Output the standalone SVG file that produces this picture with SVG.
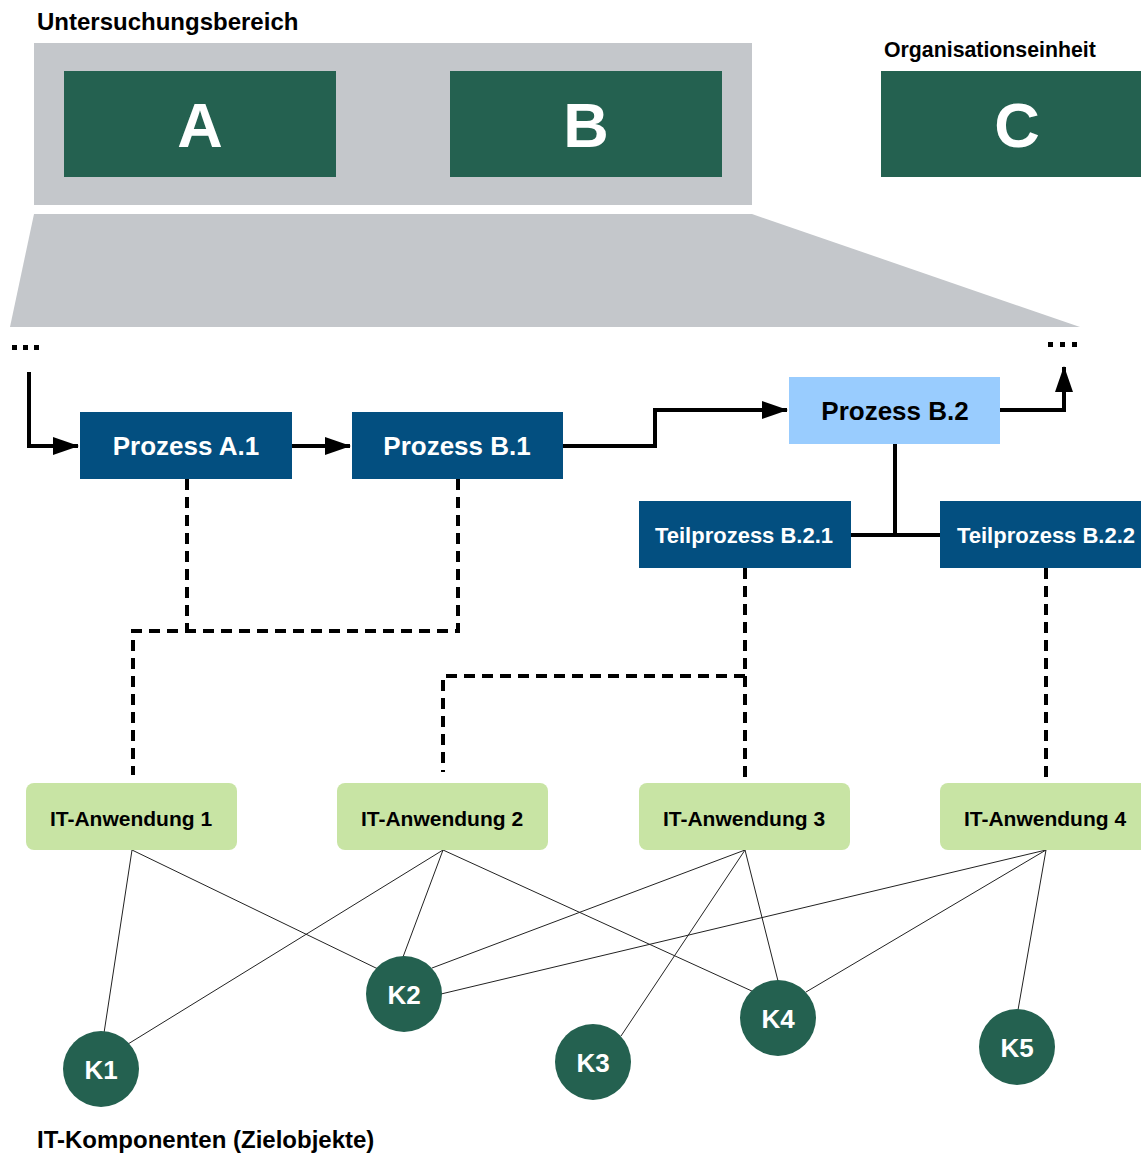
<svg xmlns="http://www.w3.org/2000/svg" width="1141" height="1153" viewBox="0 0 1141 1153">
<style>
text{font-family:"Liberation Sans",Arial,sans-serif;font-weight:bold}
.lbl{fill:#000}
.org{fill:#246150}
.big{fill:#fff;font-size:63px;text-anchor:middle}
.proc{fill:#034f80}
.pt{fill:#fff;font-size:26px;text-anchor:middle}
.tt{fill:#fff;font-size:22px;text-anchor:middle}
.app{fill:#c8e4a4}
.at{fill:#000;font-size:21px;text-anchor:middle}
.comp{fill:#246150}
.kt{fill:#fff;font-size:26px;text-anchor:middle}
.solid{fill:none;stroke:#000;stroke-width:4}
.dash{fill:none;stroke:#000;stroke-width:4;stroke-dasharray:11 7}
.thin{fill:none;stroke:#222;stroke-width:1}
</style>
<defs>
<marker id="ahb" markerWidth="26" markerHeight="18" refX="25" refY="9" orient="auto" markerUnits="userSpaceOnUse" viewBox="0 0 26 18"><path d="M0,0 L26,9 L0,18 z" fill="#000"/></marker>
</defs>

<g id="untersuchungsbereich">
<text class="lbl" x="37" y="30" font-size="24">Untersuchungsbereich</text>
<rect x="34" y="43" width="718" height="162" fill="#c4c7cb"/>
</g>
<g id="zoom-trapez">
<polygon points="34,214 752,214 1080,327 10,327" fill="#c4c7cb"/>
</g>
<g id="node-A"><rect class="org" x="64" y="71" width="272" height="106"/><text class="big" x="200" y="147">A</text></g>
<g id="node-B"><rect class="org" x="450" y="71" width="272" height="106"/><text class="big" x="586" y="147">B</text></g>
<g id="node-C">
<text class="lbl" x="884" y="57" font-size="21.3">Organisationseinheit</text>
<rect class="org" x="881" y="71" width="262" height="106"/><text class="big" x="1017" y="147">C</text></g>

<g id="ellipsis-left"><rect x="12" y="345" width="5" height="5"/><rect x="23" y="345" width="5" height="5"/><rect x="34" y="345" width="5" height="5"/></g>
<g id="ellipsis-right"><rect x="1048" y="342" width="5" height="5"/><rect x="1060" y="342" width="5" height="5"/><rect x="1072" y="342" width="5" height="5"/></g>

<g id="connectors">
<path class="solid" d="M29,372 V446 H78" marker-end="url(#ahb)"/>
<path class="solid" d="M292,446 H350" marker-end="url(#ahb)"/>
<path class="solid" d="M563,446 H655 V410 H787" marker-end="url(#ahb)"/>
<path class="solid" d="M1000,410 H1064 V367" marker-end="url(#ahb)"/>
<path class="solid" d="M895,444 V535 M851,535 H940"/>
<path class="dash" d="M187,479 V631 M458,479 V631 H133 V775"/>
<path class="dash" d="M745,568 V780 M745,676 H443 V772"/>
<path class="dash" d="M1046,568 V780"/>
<path class="thin" d="M132,850 L104,1033 M132,850 L378,969"/>
<path class="thin" d="M443,850 L128,1044 M443,850 L403,957 M443,850 L754,992"/>
<path class="thin" d="M745,850 L432,968 M745,850 L621,1036 M745,850 L778,981"/>
<path class="thin" d="M1046,850 L441,994 M1046,850 L806,992 M1046,850 L1018,1010"/>
</g>

<g id="prozess-a1"><rect class="proc" x="80" y="412" width="212" height="67"/><text class="pt" x="186" y="455">Prozess A.1</text></g>
<g id="prozess-b1"><rect class="proc" x="352" y="412" width="211" height="67"/><text class="pt" x="457" y="455">Prozess B.1</text></g>
<g id="prozess-b2"><rect x="789" y="377" width="211" height="67" fill="#99ccfe"/><text class="pt" x="895" y="420" style="fill:#000">Prozess B.2</text></g>
<g id="teilprozess-b21"><rect class="proc" x="639" y="501" width="212" height="67"/><text class="tt" x="744" y="543">Teilprozess B.2.1</text></g>
<g id="teilprozess-b22"><rect class="proc" x="940" y="501" width="203" height="67"/><text class="tt" x="1046" y="543">Teilprozess B.2.2</text></g>

<g id="it-anwendung-1"><rect class="app" x="26" y="783" width="211" height="67" rx="8"/><text class="at" x="131" y="826">IT-Anwendung 1</text></g>
<g id="it-anwendung-2"><rect class="app" x="337" y="783" width="211" height="67" rx="8"/><text class="at" x="442" y="826">IT-Anwendung 2</text></g>
<g id="it-anwendung-3"><rect class="app" x="639" y="783" width="211" height="67" rx="8"/><text class="at" x="744" y="826">IT-Anwendung 3</text></g>
<g id="it-anwendung-4"><rect class="app" x="940" y="783" width="211" height="67" rx="8"/><text class="at" x="1045" y="826">IT-Anwendung 4</text></g>

<g id="k1"><circle class="comp" cx="101" cy="1069" r="38"/><text class="kt" x="101" y="1079">K1</text></g>
<g id="k2"><circle class="comp" cx="404" cy="994" r="38"/><text class="kt" x="404" y="1004">K2</text></g>
<g id="k3"><circle class="comp" cx="593" cy="1062" r="38"/><text class="kt" x="593" y="1072">K3</text></g>
<g id="k4"><circle class="comp" cx="778" cy="1018" r="38"/><text class="kt" x="778" y="1028">K4</text></g>
<g id="k5"><circle class="comp" cx="1017" cy="1047" r="38"/><text class="kt" x="1017" y="1057">K5</text></g>

<text class="lbl" x="37" y="1148" font-size="24">IT-Komponenten (Zielobjekte)</text>
</svg>
